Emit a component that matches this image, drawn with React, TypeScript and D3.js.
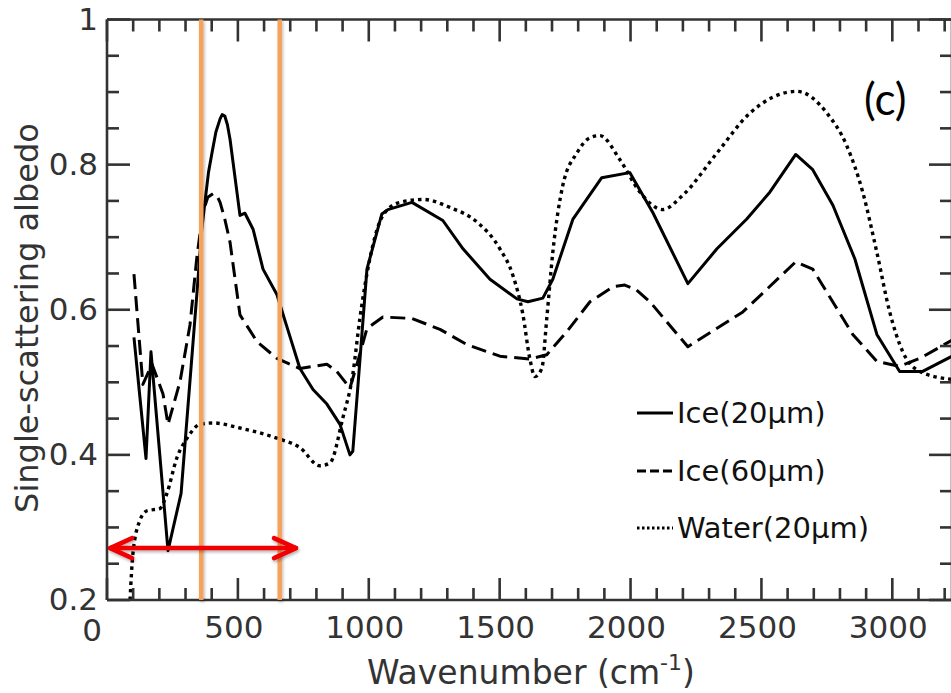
import React from "react";
import * as d3 from "d3";

// ---- data (wavenumber cm^-1, single-scattering albedo) ----
const ice20: [number, number][] = [
  [103, 0.562], [149, 0.395], [168, 0.542], [233, 0.268], [283, 0.347], [344, 0.625],
  [362, 0.71], [374, 0.748], [388, 0.79], [401, 0.816], [416, 0.845], [432, 0.863],
  [440, 0.869], [450, 0.867], [460, 0.855], [470, 0.835], [508, 0.73],
  [527, 0.733], [558, 0.711], [596, 0.656], [649, 0.621], [699, 0.563], [737, 0.519],
  [787, 0.49], [840, 0.47], [890, 0.442], [928, 0.4], [939, 0.405], [959, 0.497],
  [993, 0.656], [1050, 0.732], [1073, 0.738], [1165, 0.748], [1283, 0.723], [1360, 0.684],
  [1463, 0.642], [1566, 0.615], [1608, 0.611], [1665, 0.616], [1703, 0.642], [1780, 0.725],
  [1890, 0.782], [1997, 0.789], [2085, 0.734], [2219, 0.636], [2330, 0.684], [2444, 0.725],
  [2532, 0.762], [2631, 0.814], [2696, 0.793], [2773, 0.744], [2857, 0.67], [2941, 0.566],
  [3028, 0.515], [3116, 0.515], [3228, 0.536],
];
const ice60: [number, number][] = [
  [103, 0.649], [137, 0.497], [172, 0.525], [214, 0.484], [233, 0.442], [279, 0.501],
  [317, 0.579], [344, 0.675], [367, 0.735], [385, 0.755], [405, 0.76], [420, 0.757],
  [432, 0.748], [450, 0.725], [470, 0.693],
  [508, 0.593], [573, 0.556], [649, 0.533], [737, 0.519], [840, 0.525], [878, 0.515],
  [928, 0.492], [955, 0.525], [993, 0.574], [1054, 0.59], [1165, 0.588], [1272, 0.573],
  [1375, 0.552], [1501, 0.536], [1615, 0.532], [1680, 0.538], [1757, 0.57], [1845, 0.611],
  [1935, 0.632], [1978, 0.634], [2020, 0.628], [2074, 0.611], [2219, 0.549], [2429, 0.597],
  [2631, 0.666], [2696, 0.656], [2849, 0.566], [2941, 0.529], [3028, 0.522], [3105, 0.533],
  [3228, 0.558],
];
const water20: [number, number][] = [
  [88, 0.2], [99, 0.264], [126, 0.31], [153, 0.323], [202, 0.326], [229, 0.347],
  [267, 0.396], [306, 0.423], [355, 0.442], [405, 0.444], [508, 0.437], [649, 0.423],
  [737, 0.41], [813, 0.385], [852, 0.389], [901, 0.451], [939, 0.511], [966, 0.588],
  [1004, 0.67], [1054, 0.73], [1119, 0.748], [1207, 0.752], [1310, 0.741], [1413, 0.721],
  [1501, 0.684], [1550, 0.648], [1589, 0.593], [1615, 0.533], [1635, 0.508], [1661, 0.519],
  [1680, 0.588], [1703, 0.679], [1741, 0.771], [1795, 0.816], [1845, 0.837], [1883, 0.84],
  [1959, 0.807], [2036, 0.762], [2123, 0.738], [2200, 0.758], [2330, 0.816], [2456, 0.871],
  [2635, 0.901], [2750, 0.871], [2826, 0.826], [2887, 0.762], [2941, 0.679], [2990, 0.597],
  [3040, 0.542], [3105, 0.515], [3228, 0.504],
];
const bandLines = [360, 660];
const arrowSpan = [12, 722];
const arrowLevel = 0.2715;
const xTicks = [0, 500, 1000, 1500, 2000, 2500, 3000];
const yTicks = [0.2, 0.4, 0.6, 0.8, 1];
const yTickLabels = ["0.2", "0.4", "0.6", "0.8", "1"];
const legendLabels = ["Ice(20\u00b5m)", "Ice(60\u00b5m)", "Water(20\u00b5m)"];

const W = 951;
const H = 693;
const FONT = "DejaVu Sans, sans-serif";
const AX = "#333333";

export default function App() {
  const x = d3.scaleLinear().domain([0, 3228]).range([107, 952]);
  const y = d3.scaleLinear().domain([0.2, 1]).range([600, 19.5]);
  const lineLin = d3
    .line<[number, number]>()
    .x((d) => x(d[0]))
    .y((d) => y(d[1]))
    .curve(d3.curveLinear);
  const lineSmooth = d3
    .line<[number, number]>()
    .x((d) => x(d[0]))
    .y((d) => y(d[1]))
    .curve(d3.curveMonotoneX);

  const x0 = x.range()[0];
  const x1 = x.range()[1];
  const yB = y.range()[0];
  const yT = y.range()[1];

  const xMinor = d3.range(0, 3228, 100);
  const yMinor = d3.range(0.2, 1.0001, 0.05);

  const series = [
    { d: lineLin(ice20), dash: "none", lw: 3 },
    { d: lineLin(ice60), dash: "15 7", lw: 3 },
    { d: lineSmooth(water20), dash: "3.5 4", lw: 3.4 },
  ];
  const legendDash = ["none", "9 4", "2.5 2.5"];
  const legendRowsY = [413, 471, 528];

  const ax = x(arrowSpan[0]);
  const bx = x(arrowSpan[1]);
  const ay = y(arrowLevel);

  return (
    <svg
      width={W}
      height={H}
      style={{ position: "absolute", left: 0, top: 0, background: "#fff" }}
    >
      <defs>
        <clipPath id="plot">
          <rect x={x0} y={yT} width={x1 - x0} height={yB - yT} />
        </clipPath>
        <filter
          id="glow"
          filterUnits="userSpaceOnUse"
          x={0}
          y={0}
          width={W}
          height={H}
        >
          <feGaussianBlur in="SourceAlpha" stdDeviation="1.5" result="b" />
          <feOffset in="b" dx="1" dy="1.5" result="o" />
          <feComponentTransfer in="o" result="s">
            <feFuncA type="linear" slope="0.3" />
          </feComponentTransfer>
          <feMerge>
            <feMergeNode in="s" />
            <feMergeNode in="SourceGraphic" />
          </feMerge>
        </filter>
      </defs>
      <rect width={W} height={H} fill="#fff" />

      {/* curves */}
      <g clipPath="url(#plot)" fill="none" stroke="#000" strokeLinejoin="round">
        {series.map((s, i) => (
          <path key={i} d={s.d || ""} strokeWidth={s.lw} strokeDasharray={s.dash} />
        ))}
      </g>

      {/* axes frame */}
      <g stroke={AX} strokeWidth={2.6} fill="none">
        <line x1={x0} x2={x1} y1={yB} y2={yB} />
        <line x1={x0} x2={x1} y1={yT} y2={yT} />
        <line x1={x0} x2={x0} y1={yT} y2={yB} />
        <line x1={x1} x2={x1} y1={yT} y2={yB} />
        {xMinor.map((v) => {
          const major = v % 500 === 0;
          const len = major ? 22 : 12;
          return (
            <g key={"xt" + v}>
              <line x1={x(v)} x2={x(v)} y1={yB} y2={yB - len} />
              <line x1={x(v)} x2={x(v)} y1={yT} y2={yT + len} />
            </g>
          );
        })}
        {yMinor.map((v, i) => {
          const major = i % 4 === 0;
          const len = major ? 23 : 12;
          return (
            <g key={"yt" + i}>
              <line x1={x0} x2={x0 + len} y1={y(v)} y2={y(v)} />
              <line x1={x1} x2={x1 - len} y1={y(v)} y2={y(v)} />
            </g>
          );
        })}
      </g>

      {/* tick labels */}
      <g fontFamily={FONT} fontSize={31} fill={AX}>
        {xTicks.map((v) => (
          <text
            key={"xl" + v}
            x={x(v) - (v === 0 ? 15 : 4)}
            y={v === 0 ? 641 : 638}
            textAnchor="middle"
          >
            {v}
          </text>
        ))}
        {yTicks.map((v, i) => (
          <text key={"yl" + v} x={98} y={y(v) + 10} textAnchor="end">
            {yTickLabels[i]}
          </text>
        ))}
      </g>

      {/* axis titles */}
      <text
        x={531}
        y={684}
        textAnchor="middle"
        fontFamily={FONT}
        fontSize={33}
        fill={AX}
      >
        Wavenumber (cm
        <tspan fontSize={22} dy={-14}>-1</tspan>
        <tspan dy={14}>)</tspan>
      </text>
      <text
        transform="translate(38,318) rotate(-90)"
        textAnchor="middle"
        fontFamily={FONT}
        fontSize={32}
        fill={AX}
      >
        Single-scattering albedo
      </text>

      {/* band lines */}
      <g filter="url(#glow)">
        {bandLines.map((v) => (
          <line
            key={"b" + v}
            x1={x(v)}
            x2={x(v)}
            y1={yT}
            y2={yB}
            stroke="#f5a25c"
            strokeWidth={4.5}
          />
        ))}
      </g>

      {/* red double arrow */}
      <g
        stroke="#f00000"
        strokeWidth={4.5}
        fill="none"
        strokeLinecap="round"
        strokeLinejoin="round"
        filter="url(#glow)"
      >
        <line x1={ax} x2={bx} y1={ay} y2={ay} />
        <polyline points={`${ax + 22},${ay - 10} ${ax},${ay} ${ax + 22},${ay + 10}`} />
        <polyline points={`${bx - 22},${ay - 10} ${bx},${ay} ${bx - 22},${ay + 10}`} />
      </g>

      {/* legend */}
      <g fontFamily={FONT} fontSize={29} fill="#111">
        {legendLabels.map((lab, i) => (
          <g key={lab}>
            <line
              x1={637}
              x2={673}
              y1={legendRowsY[i]}
              y2={legendRowsY[i]}
              stroke="#000"
              strokeWidth={3}
              strokeDasharray={legendDash[i]}
            />
            <text x={677} y={legendRowsY[i] + 10}>
              {lab}
            </text>
          </g>
        ))}
      </g>

      {/* panel label */}
      <text
        x={864}
        y={115}
        fontFamily="Lato, Open Sans, sans-serif"
        fontSize={44}
        fill="#000"
      >
        (c)
      </text>
    </svg>
  );
}
